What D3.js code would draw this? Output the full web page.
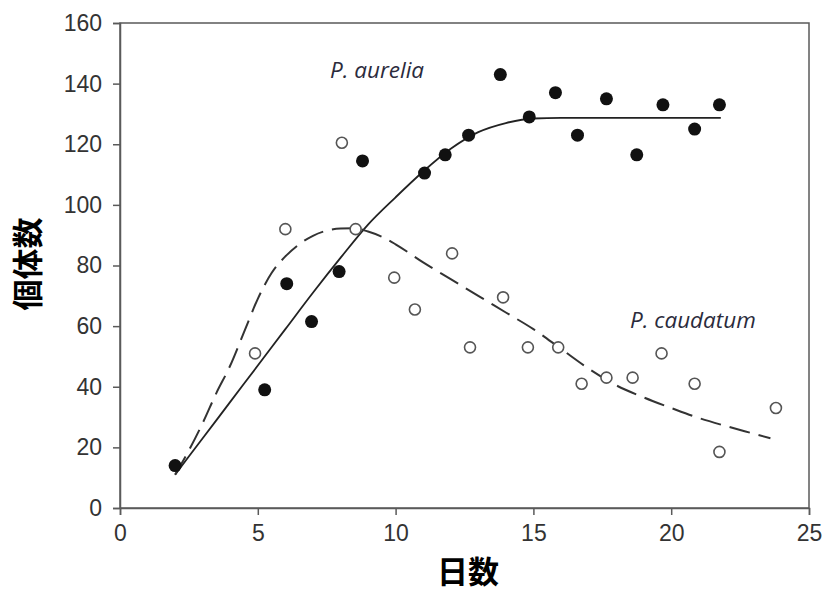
<!DOCTYPE html>
<html lang="ja">
<head>
<meta charset="UTF-8">
<title>個体数の推移</title>
<style>
  body { margin: 0; background: #fff; }
  svg { display: block; }
  .tick text { font-family: 'Liberation Sans', sans-serif; font-size: 23px; fill: #333; }
  .species { font-family: 'Open Sans', 'Liberation Sans', sans-serif; font-style: italic; font-size: 22.5px; fill: #2b2b3c; }
  .axis-title { font-family: 'Noto Sans CJK JP', sans-serif; font-weight: bold; font-size: 31px; fill: #000; }
</style>
<script src="https://d3js.org/d3.v7.min.js"></script>
</head>
<body>
<svg id="chart"></svg>
<script>
// P. aurelia (黒丸)
const aureliaDays = [2.0, 5.25, 6.05, 6.95, 7.95, 8.8, 11.05, 11.8, 12.65, 13.8, 14.85, 15.8, 16.6, 17.65, 18.75, 19.7, 20.85, 21.75];
const aureliaCounts = [14, 39, 74, 61.5, 78, 114.5, 110.5, 116.5, 123, 143, 129, 137, 123, 135, 116.5, 133, 125, 133];

// P. caudatum (白丸)
const caudatumDays = [4.9, 6.0, 8.05, 8.55, 9.95, 10.7, 12.05, 12.7, 13.9, 14.8, 15.9, 16.75, 17.65, 18.6, 19.65, 20.85, 21.75, 23.8];
const caudatumCounts = [51, 92, 120.5, 92, 76, 65.5, 84, 53, 69.5, 53, 53, 41, 43, 43, 51, 41, 18.5, 33];

// 当てはめ曲線
const aureliaFitDays = [2, 3, 4, 5, 6, 7, 8, 9, 10, 11, 12, 13, 14, 15, 16, 18, 20, 21.8];
const aureliaFit = [11, 23, 35, 47, 59, 71, 82.5, 93.5, 102.5, 111, 118.5, 124, 127, 128.5, 128.7, 128.7, 128.7, 128.7];

const caudatumFitDays = [2, 2.5, 3, 3.5, 4, 4.5, 5, 5.5, 6, 6.5, 7, 7.5, 8, 8.5, 9, 9.5, 10, 11, 12, 13, 14, 15, 16, 17, 18, 19, 20, 21, 22, 23, 23.6];
const caudatumFit = [11, 19, 28, 38, 47, 58, 69, 77.5, 83, 87, 89.8, 91.5, 92.2, 92.3, 91.2, 89.5, 87, 81, 75.5, 70, 64.5, 59, 52.5, 46, 40.5, 36.5, 33, 29.7, 27, 24.5, 23];

const xTicks = [0, 5, 10, 15, 20, 25];
const yTicks = [0, 20, 40, 60, 80, 100, 120, 140, 160];

const width = 824, height = 591;
const margin = { top: 23, right: 15, bottom: 83, left: 120 };

const svg = d3.select("#chart").attr("width", width).attr("height", height);

const x = d3.scaleLinear().domain([0, 25]).range([margin.left, width - margin.right]);
const y = d3.scaleLinear().domain([0, 160]).range([height - margin.bottom, margin.top]);

// 枠
svg.append("rect")
  .attr("x", x(0)).attr("y", y(160))
  .attr("width", x(25) - x(0)).attr("height", y(0) - y(160))
  .attr("fill", "none").attr("stroke", "#5a5a5a").attr("stroke-width", 1.5);

// 軸
const xAxis = svg.append("g")
  .attr("transform", `translate(0,${y(0)})`)
  .call(d3.axisBottom(x).tickValues(xTicks).tickSize(7).tickPadding(10));
const yAxis = svg.append("g")
  .attr("transform", `translate(${x(0)},0)`)
  .call(d3.axisLeft(y).tickValues(yTicks).tickSize(7).tickPadding(11));
[xAxis, yAxis].forEach(a => {
  a.select(".domain").attr("stroke", "#5a5a5a").attr("stroke-width", 1.5);
  a.selectAll(".tick line").attr("stroke", "#5a5a5a").attr("stroke-width", 1.5);
});

// 曲線
const line = d3.line().x(d => x(d[0])).y(d => y(d[1])).curve(d3.curveMonotoneX);

svg.append("path")
  .datum(aureliaFitDays.map((d, i) => [d, aureliaFit[i]]))
  .attr("d", line)
  .attr("fill", "none").attr("stroke", "#222").attr("stroke-width", 1.8);

svg.append("path")
  .datum(caudatumFitDays.map((d, i) => [d, caudatumFit[i]]))
  .attr("d", line)
  .attr("fill", "none").attr("stroke", "#333").attr("stroke-width", 2)
  .attr("stroke-dasharray", "21,9");

// 点
svg.append("g").selectAll("circle")
  .data(caudatumDays.map((d, i) => [d, caudatumCounts[i]]))
  .join("circle")
  .attr("cx", d => x(d[0])).attr("cy", d => y(d[1])).attr("r", 5.5)
  .attr("fill", "#fff").attr("stroke", "#555").attr("stroke-width", 1.6);

svg.append("g").selectAll("circle")
  .data(aureliaDays.map((d, i) => [d, aureliaCounts[i]]))
  .join("circle")
  .attr("cx", d => x(d[0])).attr("cy", d => y(d[1])).attr("r", 6.5)
  .attr("fill", "#111");

// 種名
svg.append("text").attr("class", "species").attr("x", 330).attr("y", 78).text("P. aurelia");
svg.append("text").attr("class", "species").attr("x", 630).attr("y", 328).text("P. caudatum");

// 軸タイトル
svg.append("text").attr("class", "axis-title")
  .attr("text-anchor", "middle")
  .attr("transform", "translate(39,264) rotate(-90)")
  .text("個体数");
svg.append("text").attr("class", "axis-title")
  .attr("text-anchor", "middle")
  .attr("x", 468).attr("y", 583)
  .text("日数");
</script>
</body>
</html>
